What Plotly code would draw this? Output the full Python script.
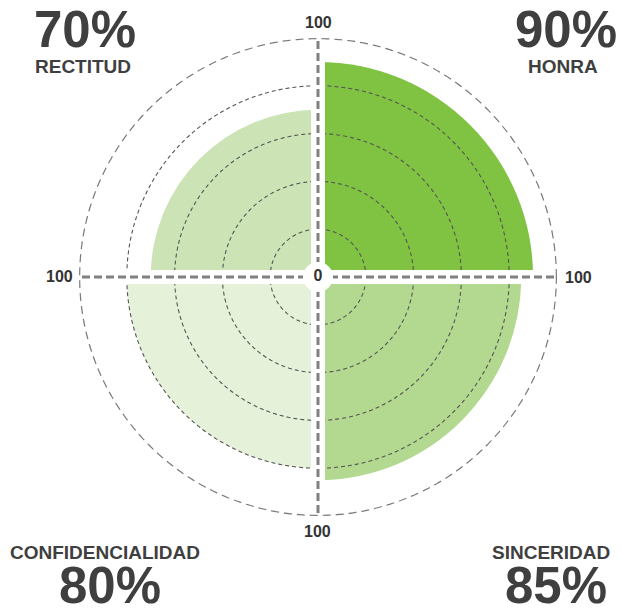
import numpy as np
import plotly.graph_objects as go

# ---- data ----
categories = ["HONRA", "RECTITUD", "CONFIDENCIALIDAD", "SINCERIDAD"]
values = [90, 70, 80, 85]
angles = [45, 135, 225, 315]
colors = ["#80C342", "#CCE4B5", "#E5F1D9", "#B2D98F"]
grid_levels = [20, 40, 60, 80]
axis_max = 100
axis_label = "100"
center_label = "0"

W, H = 621, 610
cx, cy, R = 318, 277, 239  # px, from top-left

TEXT = "#3f3f3f"
FONT = "Liberation Sans, Arial, sans-serif"

fig = go.Figure()

# bars
fig.add_trace(go.Barpolar(
    r=values, theta=angles, width=[90] * 4,
    marker=dict(color=colors, line=dict(width=0)),
    hoverinfo="skip", showlegend=False,
))

circle_t = np.linspace(0, 360, 721)
# inner dashed circles
for lv in grid_levels:
    fig.add_trace(go.Scatterpolar(
        r=[lv] * len(circle_t), theta=circle_t, mode="lines",
        line=dict(color="#555555", width=1.1, dash="4px,3px"),
        hoverinfo="skip", showlegend=False,
    ))

# white gaps along axes
for a in [0, 90, 180, 270]:
    fig.add_trace(go.Scatterpolar(
        r=[0, axis_max], theta=[a, a], mode="lines",
        line=dict(color="white", width=14),
        hoverinfo="skip", showlegend=False,
    ))
# dashed axis lines
for a in [0, 90, 180, 270]:
    fig.add_trace(go.Scatterpolar(
        r=[0, axis_max], theta=[a, a], mode="lines",
        line=dict(color="#808080", width=3, dash="8px,4px"),
        hoverinfo="skip", showlegend=False,
    ))

# outer dashed circle
fig.add_trace(go.Scatterpolar(
    r=[axis_max] * len(circle_t), theta=circle_t, mode="lines",
    line=dict(color="#7a7a7a", width=2.5, dash="8px,5px"),
    hoverinfo="skip", showlegend=False,
))

# center disk with 0
fig.add_trace(go.Scatterpolar(
    r=[0], theta=[0], mode="markers+text",
    marker=dict(color="white", size=30, line=dict(width=0)),
    text=[center_label], textposition="middle center",
    textfont=dict(family=FONT, size=16, color="#333333", weight="bold"),
    hoverinfo="skip", showlegend=False, cliponaxis=False,
))

xd = [(cx - R) / W, (cx + R) / W]
yd = [1 - (cy + R) / H, 1 - (cy - R) / H]

fig.update_layout(
    width=W, height=H, autosize=False,
    margin=dict(l=0, r=0, t=0, b=0),
    paper_bgcolor="white", plot_bgcolor="white",
    showlegend=False,
    polar=dict(
        domain=dict(x=xd, y=yd),
        bgcolor="white",
        bargap=0,
        radialaxis=dict(range=[0, axis_max], visible=False, showgrid=False),
        angularaxis=dict(visible=False, showgrid=False, rotation=0,
                         direction="counterclockwise"),
    ),
)

# "100" labels just outside the outer circle (offset in px from circle)
lab_off = {0: (21, 0), 90: (0, 15), 180: (-20, 0), 270: (0, 15)}
for a, (ox, oy) in lab_off.items():
    rad = np.deg2rad(a)
    lx = cx + (R + ox if a in (0,) else (R - ox if False else R)) * np.cos(rad)
    lx = cx + R * np.cos(rad) + ox
    ly = cy - R * np.sin(rad) - (oy if a == 90 else -oy)
    fig.add_annotation(
        x=lx / W, y=1 - ly / H, xref="paper", yref="paper",
        text=f"<b>{axis_label}</b>", showarrow=False,
        xanchor="center", yanchor="middle",
        font=dict(family=FONT, size=16, color="#333333"),
    )

# corner label positions (px): pct x, pct y, name x, name y
corner = {
    "RECTITUD": (85, 29, 83, 65.5),
    "HONRA": (566, 29, 563, 65.5),
    "CONFIDENCIALIDAD": (110, 585, 105, 551.5),
    "SINCERIDAD": (556, 585, 551, 551.5),
}
for cat, val in zip(categories, values):
    px, py, nx, ny = corner[cat]
    fig.add_annotation(
        x=px / W, y=1 - py / H, xref="paper", yref="paper",
        text=f"<b>{val}%</b>", showarrow=False,
        xanchor="center", yanchor="middle", height=44,
        font=dict(family=FONT, size=51, color=TEXT),
    )
    fig.add_annotation(
        x=nx / W, y=1 - ny / H, xref="paper", yref="paper",
        text=f"<b>{cat}</b>", showarrow=False,
        xanchor="center", yanchor="middle", height=18,
        font=dict(family=FONT, size=19, color=TEXT),
    )

fig.write_html(
    "out.html",
    config={"displayModeBar": False},
    post_script="document.body.style.margin='0';document.body.style.overflow='hidden';",
)
